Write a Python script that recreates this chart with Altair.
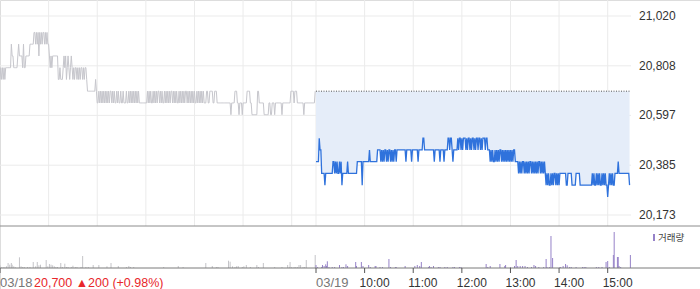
import altair as alt
import pandas as pd

# ---------------- data ----------------
prev_close = 20700

# 03/18 one-minute prices (09:00 .. 15:29)
day1_prices = [
    20750, 20800, 20750, 20800, 20750, 20800, 20750, 20800, 20800,
    20800, 20800, 20800, 20800, 20800,
    20900, 20850, 20850,
    20800, 20800, 20800, 20800, 20800,
    20850, 20900, 20850, 20850, 20850, 20850,
    20800, 20900, 20800, 20800,
    20850, 20850, 20850, 20850, 20850,
    20900, 20900, 20900, 20900, 20900,
    20950, 20950, 20900, 20950, 20900, 20950,
    20850, 20950, 20900, 20950, 20900, 20950,
    20950, 20900, 20950, 20900, 20950, 20900, 20900,
    20850, 20800, 20850, 20800,
    20850, 20850, 20850, 20850, 20850, 20850, 20850,
    20750, 20750, 20800, 20750, 20750, 20750,
    20800, 20850, 20800, 20850, 20750, 20800, 20850, 20800, 20750, 20800, 20850, 20800,
    20750, 20800, 20750, 20800, 20800, 20750, 20800, 20750, 20800, 20750,
    20800, 20800, 20750, 20800, 20750, 20800, 20800, 20750,
    20700, 20700, 20700, 20700, 20700, 20700, 20700, 20700, 20700, 20700,
    20750, 20700,
    20650, 20650, 20700, 20650, 20700, 20650, 20700, 20650, 20700, 20650,
    20700, 20650, 20700, 20650, 20700, 20650, 20700, 20700, 20650, 20700,
    20650, 20700, 20650, 20650, 20700, 20650, 20700, 20650, 20650, 20700,
    20650, 20650, 20700, 20650, 20650, 20650, 20700, 20650, 20650, 20700,
    20650, 20700, 20650, 20700, 20650, 20700, 20650, 20700, 20650, 20700,
    20650, 20700, 20650,
    20650, 20650, 20650, 20650, 20650, 20650, 20650, 20650, 20650,
    20700, 20650, 20700, 20650, 20700, 20650, 20650, 20700, 20650, 20700,
    20650, 20700, 20650, 20700, 20700, 20650, 20700, 20650, 20700, 20650,
    20650, 20700, 20650, 20700, 20650, 20700, 20650, 20700, 20650, 20700,
    20700, 20650, 20700, 20650, 20700, 20650, 20700, 20650, 20650, 20700,
    20650, 20700, 20650, 20700, 20650, 20700, 20650, 20700, 20700, 20650,
    20700, 20650, 20700, 20650, 20700, 20650, 20700, 20650, 20700, 20650,
    20650, 20700, 20650, 20700, 20650, 20700, 20650, 20700, 20650, 20700,
    20650, 20650, 20650, 20700, 20700, 20650, 20650,
    20700, 20700, 20700, 20700,
    20650, 20650,
    20700, 20700, 20700,
    20650, 20650, 20650, 20650, 20650, 20650, 20650, 20650, 20650, 20650,
    20650, 20650, 20650, 20650, 20650, 20650, 20650,
    20600,
    20650, 20650, 20650, 20650,
    20700, 20700, 20700,
    20650, 20650,
    20600, 20650,
    20650, 20650,
    20600, 20650, 20650,
    20650, 20650, 20650,
    20700, 20700, 20700, 20700,
    20650, 20650,
    20600, 20600, 20600, 20600, 20600, 20600, 20600,
    20700, 20700,
    20650, 20650, 20650, 20650, 20650, 20650,
    20600, 20600, 20600, 20600, 20600, 20600,
    20650, 20650,
    20600, 20600, 20650,
    20650, 20650,
    20600, 20650,
    20650, 20650, 20650, 20650, 20650, 20650, 20650,
    20600, 20650,
    20650, 20650, 20650, 20650, 20650, 20650, 20650, 20650, 20650,
    20700, 20700, 20700, 20700,
    20650,
    20700, 20700, 20700,
    20650, 20650, 20650, 20650, 20650, 20650, 20650, 20650,
    20600, 20650,
    20650, 20650, 20650, 20650, 20650, 20650, 20650, 20650, 20650, 20650, 20650, 20650,
    20700,
]

# 03/19 one-minute prices (09:00 .. 15:27)
day2_prices = [
    20400, 20400, 20400, 20400,
    20500,
    20450, 20450,
    20350, 20350, 20350, 20350,
    20300,
    20350, 20350, 20350, 20350, 20350, 20350, 20350, 20350, 20350,
    20400, 20400,
    20350, 20400, 20350, 20400, 20350, 20350, 20400, 20350, 20400,
    20300,
    20350, 20350, 20350, 20350, 20350, 20350,
    20400,
    20350, 20350, 20350, 20350, 20350, 20350, 20350, 20350, 20350, 20350, 20350,
    20400, 20400, 20400, 20400, 20400, 20400,
    20300,
    20400, 20400, 20400, 20400, 20400, 20400, 20400, 20400,
    20450,
    20400, 20400, 20400, 20400, 20400, 20400, 20400, 20400, 20400,
    20450, 20450, 20450, 20450,
    20400, 20450, 20400, 20450, 20400, 20450, 20450, 20400, 20450, 20400,
    20450, 20450, 20400, 20450, 20400, 20450, 20400, 20450, 20450, 20400, 20450,
    20450, 20450, 20450, 20450, 20450, 20450, 20450, 20450, 20450, 20450,
    20400,
    20450, 20450, 20450, 20450, 20450, 20450,
    20400,
    20450, 20450, 20450, 20450, 20450, 20450, 20450,
    20400,
    20450, 20450, 20450, 20450, 20450,
    20500, 20500,
    20450, 20450, 20450, 20450, 20450, 20450, 20450, 20450, 20450, 20450, 20450, 20450,
    20400,
    20450, 20450, 20450, 20450, 20450, 20450,
    20400,
    20450, 20450, 20450, 20450,
    20400,
    20450, 20450, 20450, 20450,
    20500, 20500,
    20450,
    20500, 20500,
    20450,
    20400,
    20450, 20450, 20450, 20450, 20450,
    20500, 20450, 20500, 20500, 20450, 20500, 20450, 20500, 20500, 20500,
    20450, 20500, 20450, 20500, 20500, 20450, 20500, 20450, 20500, 20500,
    20450, 20500, 20450, 20500, 20500, 20450, 20500, 20500, 20450, 20500,
    20450, 20500, 20500, 20500, 20450, 20500, 20500, 20450,
    20450, 20450,
    20400, 20450, 20400, 20450, 20400, 20400, 20450, 20400, 20450, 20400,
    20450, 20400, 20450, 20450, 20400, 20450, 20400, 20450, 20400, 20450,
    20400, 20450, 20400, 20450, 20400, 20450, 20400, 20450, 20400, 20450, 20450,
    20400, 20400, 20400, 20400,
    20350, 20400, 20350, 20400, 20350, 20400, 20400, 20350, 20400, 20350,
    20400, 20350, 20400, 20350, 20400, 20400, 20350, 20400, 20350, 20400,
    20350, 20400, 20350, 20400, 20350, 20400, 20400, 20350, 20400, 20350,
    20400, 20350, 20400, 20350,
    20300, 20350, 20300, 20350, 20300, 20300, 20350, 20300, 20350, 20300,
    20350, 20350, 20300, 20350, 20300, 20350, 20300, 20350,
    20350, 20350, 20350, 20350, 20350, 20350, 20350,
    20300, 20300, 20350,
    20350, 20350, 20350, 20350,
    20300, 20300, 20300, 20300, 20300,
    20350, 20350, 20350, 20350, 20350,
    20300,
    20300, 20300, 20300, 20300, 20300, 20300, 20300, 20300, 20300, 20300, 20300, 20300, 20300, 20300,
    20350, 20300, 20350, 20300, 20300, 20350, 20300, 20350, 20300, 20350,
    20300, 20300, 20350, 20300, 20350, 20300, 20350, 20300, 20300,
    20250,
    20300, 20350, 20300, 20350, 20300, 20350, 20300, 20300, 20350,
    20350, 20350, 20350,
    20400,
    20350, 20350, 20350, 20350, 20350, 20350, 20350, 20350, 20350, 20350, 20350, 20350, 20350,
    20300,
]

# volume (minute of session, shares)
vol1_minutes = [0, 2, 4, 6, 8, 10, 12, 14, 15, 17, 19, 24, 26, 28, 30, 34, 37, 41, 44, 46,
                48, 50, 57, 59, 61, 63, 65, 67, 69, 71, 75, 77, 80, 82, 84, 88, 90, 93, 95, 100,
                102, 106, 109, 115, 122, 132, 137, 146, 156, 159, 161, 165, 202, 220, 226, 254,
                262, 267, 269, 282, 284, 287, 290, 292, 294, 299, 301, 304, 309, 317, 319, 325,
                339, 348, 355, 357, 358, 360, 363, 365, 367, 369, 371, 374, 376, 378, 389]
vol1_values = [2700, 700, 700, 700, 1700, 5000, 3300, 5000, 3300, 1700, 700, 10700, 1700, 1000,
               1000, 1000, 1000, 6000, 1700, 6000, 2700, 3300, 8000, 1700, 4000, 3300, 2700, 1700,
               1000, 1000, 5000, 1000, 4300, 1000, 1000, 1000, 2300, 1000, 1000, 1000, 12000,
               1000, 1000, 3000, 3000, 1700, 5000, 2000, 1000, 2000, 1000, 1000, 1000, 2000, 1000,
               5000, 2000, 1000, 1000, 7300, 6300, 1700, 1000, 1700, 2000, 1000, 1700, 3000, 1000,
               3000, 1000, 5000, 1000, 1000, 3000, 1000, 6000, 1000, 1000, 1000, 1000, 3000, 3000,
               1000, 1000, 8000, 13000]
vol2_minutes = [0, 2, 7, 8, 10, 12, 13, 14, 16, 20, 23, 29, 32, 34, 37, 39, 49, 50, 56, 58,
                65, 67, 73, 74, 79, 82, 90, 92, 98, 99, 110, 122, 125, 128, 130, 139, 140, 142,
                145, 151, 153, 159, 162, 169, 171, 177, 179, 210, 212, 215, 227, 233, 234, 240,
                245, 247, 249, 252, 255, 258, 261, 266, 269, 271, 275, 281, 284, 285, 288, 290,
                292, 301, 302, 305, 308, 310, 313, 315, 321, 329, 331, 333, 346, 349, 353, 358,
                360, 362, 367, 368, 372, 373, 374, 376, 388]
vol2_values = [3000, 1000, 1000, 3000, 2000, 3700, 2000, 6700, 1000, 1000, 1000, 3000, 1000, 1000,
               3700, 2000, 6000, 2000, 6000, 2000, 3000, 1000, 2000, 2000, 1000, 1000, 9000, 1000,
               1000, 1000, 2000, 2000, 3000, 2000, 6000, 1000, 2000, 1000, 2000, 1000, 1000, 1000,
               1000, 1000, 1000, 1000, 1000, 4000, 1000, 2000, 4000, 2000, 3000, 1000, 2000, 8000,
               2000, 2000, 2000, 2000, 1000, 1000, 3000, 2000, 1000, 1000, 9000, 1000, 1000, 32000,
               10000, 1000, 1000, 2000, 4000, 2700, 1000, 1000, 1000, 1000, 1000, 1000, 1000, 1000,
               1000, 6000, 7000, 1000, 13000, 36000, 11000, 11000, 2000, 1000, 13000]

price_ticks = [20173, 20385, 20597, 20808, 21020]
price_tick_labels = ["20,173", "20,385", "20,597", "20,808", "21,020"]
grid_minutes = [60, 120, 180, 240, 300, 360, 390, 450, 510, 570, 630, 690, 750]
axis_tick_minutes = [0, 390, 450, 510, 570, 630, 690, 750]
date_ticks = [0, 390]
date_labels = ["03/18", "03/19"]
time_ticks = [450, 510, 570, 630, 690, 750]
time_labels = ["10:00", "11:00", "12:00", "13:00", "14:00", "15:00"]
quote_text = "20,700 ▲200 (+0.98%)"
legend_text = "거래량"
session_len = 390

# ---------------- frames ----------------
d1 = pd.DataFrame({"m": list(range(len(day1_prices))), "p": day1_prices})
d2 = pd.DataFrame({"m": [session_len + i for i in range(len(day2_prices))], "p": day2_prices})
d2["base"] = prev_close
pc = pd.DataFrame({"m": [session_len, d2["m"].max()], "p": [prev_close, prev_close]})
v1 = pd.DataFrame({"m": vol1_minutes, "v": vol1_values})
v2 = pd.DataFrame({"m": [session_len + m for m in vol2_minutes], "v": vol2_values})
v1["z"] = 0
v2["z"] = 0
pt = pd.DataFrame({"p": price_ticks, "label": price_tick_labels})
gm = pd.DataFrame({"m": grid_minutes})
atm = pd.DataFrame({"m": axis_tick_minutes})
dl = pd.DataFrame({"m": date_ticks, "label": date_labels})
tl = pd.DataFrame({"m": time_ticks, "label": time_labels})

xs = alt.Scale(domain=[0, 780], range=[0, 632], nice=False, zero=False)
ps = alt.Scale(domain=[20173, 21020], range=[215, 16], nice=False, zero=False)
vs = alt.Scale(domain=[0, 42000], range=[268, 226], nice=False, zero=False)

X = lambda: alt.X("m:Q", scale=xs, axis=None)
P = lambda f="p": alt.Y(f + ":Q", scale=ps, axis=None)

FONT = "Liberation Sans"

hgrid = alt.Chart(pt).mark_rule(color="#ebebeb", strokeWidth=1).encode(
    y=P(), x=alt.value(0), x2=alt.value(631))
vgrid = alt.Chart(gm).mark_rule(color="#ebebeb", strokeWidth=1).encode(
    x=X(), y=alt.value(0), y2=alt.value(226))

area2 = alt.Chart(d2).mark_area(color="#e5edf9", opacity=1).encode(
    x=X(), y=P(), y2="base:Q")
line1 = alt.Chart(d1).mark_line(color="#c6c6cc", strokeWidth=1).encode(x=X(), y=P())
line2 = alt.Chart(d2).mark_line(color="#2f72dc", strokeWidth=1.3).encode(x=X(), y=P())
pcline = alt.Chart(pc).mark_line(color="#555555", strokeWidth=1, strokeDash=[1, 1.5]).encode(
    x=X(), y=P())

plabels = alt.Chart(pt).mark_text(align="left", baseline="middle", font=FONT, fontSize=12,
                                  color="#333333").encode(
    y=P(), x=alt.value(639), text="label:N")

vol1 = alt.Chart(v1).mark_rule(color="#c4c4c8", strokeWidth=1).encode(
    x=X(), y=alt.Y("v:Q", scale=vs, axis=None), y2="z:Q")
vol2 = alt.Chart(v2).mark_rule(color="#9682c8", strokeWidth=1).encode(
    x=X(), y=alt.Y("v:Q", scale=vs, axis=None), y2="z:Q")

sep = alt.Chart(pd.DataFrame({"k": [0]})).mark_rule(color="#8c8c8c", strokeWidth=1).encode(
    x=alt.value(0), x2=alt.value(700), y=alt.value(226))
baseline = alt.Chart(pd.DataFrame({"k": [0]})).mark_rule(color="#7a7a7a", strokeWidth=1).encode(
    x=alt.value(0), x2=alt.value(700), y=alt.value(268))
ticks = alt.Chart(atm).mark_rule(color="#555555", strokeWidth=1).encode(
    x=X(), y=alt.value(268), y2=alt.value(273))

dlabels = alt.Chart(dl).mark_text(align="left", baseline="middle", font=FONT, fontSize=13,
                                  color="#777777").encode(
    x=X(), y=alt.value(283), text="label:N")
tlabels = alt.Chart(tl).mark_text(align="left", baseline="middle", font=FONT, fontSize=12,
                                  dx=-5, color="#333333").encode(
    x=X(), y=alt.value(283), text="label:N")
quote = alt.Chart(pd.DataFrame({"t": [quote_text]})).mark_text(
    align="left", baseline="middle", font=FONT, fontSize=12.5, color="#e8262b").encode(
    x=alt.value(34), y=alt.value(283), text="t:N")

leg_mark = alt.Chart(pd.DataFrame({"k": [0]})).mark_rule(color="#9682c8", strokeWidth=2).encode(
    x=alt.value(654), y=alt.value(234), y2=alt.value(241))
leg_text = alt.Chart(pd.DataFrame({"t": [legend_text]})).mark_text(
    align="left", baseline="middle", font="Noto Sans CJK KR", fontSize=9.5, color="#444444").encode(
    x=alt.value(658), y=alt.value(237.5), text="t:N")

chart = alt.layer(
    hgrid, vgrid, area2, line1, pcline, line2, plabels,
    vol1, vol2, sep, baseline, ticks, dlabels, quote, tlabels, leg_mark, leg_text,
).resolve_scale(y="independent").properties(
    width=700, height=289, padding=0,
    autosize=alt.AutoSizeParams(type="none"),
).configure_view(stroke=None).configure(background="white")

chart.save("out.html", embed_options={"renderer": "svg", "actions": False})
